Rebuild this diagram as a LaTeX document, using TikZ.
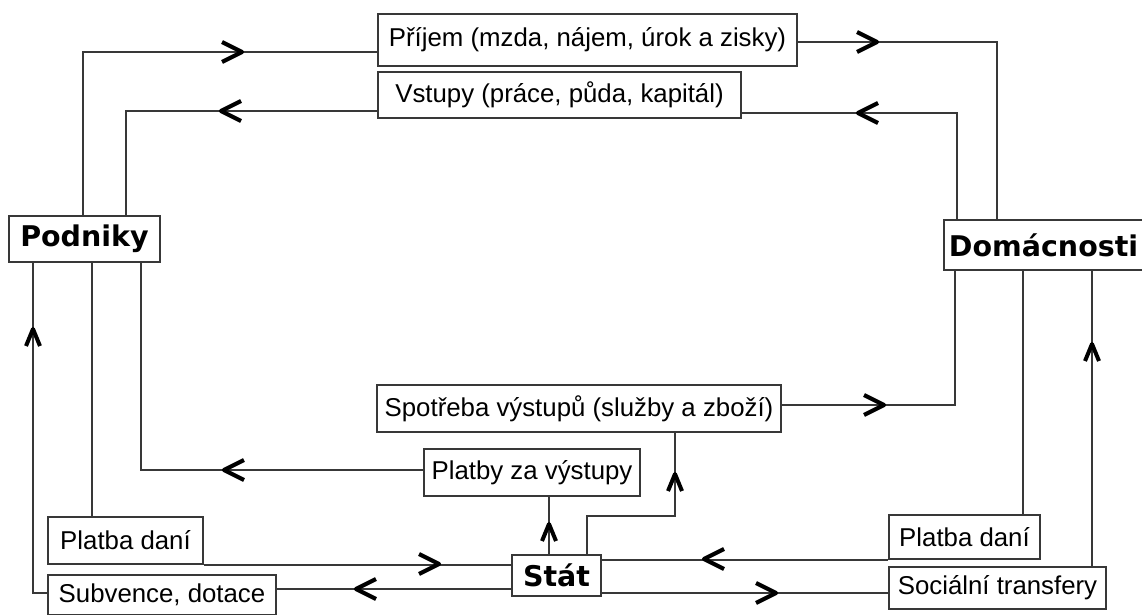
\documentclass[tikz,border=0pt]{standalone}
\usepackage{fontspec}
\setmainfont{Liberation Sans}
\newfontfamily\heavyfam{DejaVu Sans}
\definecolor{ln}{HTML}{383838}
\tikzset{
  x=1pt, y=-1pt,
  box/.style={draw=ln, line width=1.8pt, inner sep=0pt, text=black,
    font=\fontsize{25.8}{30}\selectfont},
  bigbox/.style={draw=ln, line width=1.8pt, inner sep=0pt, text=black,
    font=\heavyfam\bfseries\fontsize{28.5}{32}\selectfont},
  conn/.style={draw=ln, line width=1.8pt},
  chevR/.pic={\draw[black, line width=4.2pt, line join=round] (-20,-10) -- (0,0) -- (-20,10);},
  chevL/.pic={\draw[black, line width=4.2pt, line join=round] (20,-10) -- (0,0) -- (20,10);},
  chevU/.pic={\draw[black, line width=4pt, line join=round] (-7,17) -- (0,0) -- (7,17);},
}
\begin{document}
\begin{tikzpicture}
\useasboundingbox (0,0) rectangle (1142,614);
\clip (0,0) rectangle (1142,614);
\fill[white] (0,0) rectangle (1142,614);

% nodes
\node[box, minimum width=419pt, minimum height=52pt] (Prijem) at (587.5,40) {Příjem (mzda, nájem, úrok a zisky)};
\node[box, minimum width=363pt, minimum height=46pt] (Vstupy) at (559.5,95) {Vstupy (práce, půda, kapitál)};
\node[bigbox, minimum width=151pt, minimum height=46pt] (Podniky) at (84.5,239) {Podniky};
\node[bigbox, anchor=west, minimum width=210pt, minimum height=50pt, text width=200pt, align=left, inner xsep=5pt] (Domacnosti) at (943,245) {Domácnosti};
\node[box, minimum width=404pt, minimum height=47pt] (Spotreba) at (579,408.5) {Spotřeba výstupů (služby a zboží)};
\node[box, minimum width=216pt, minimum height=47pt] (Platby) at (532,472.5) {Platby za výstupy};
\node[bigbox, minimum width=89pt, minimum height=41pt] (Stat) at (556.5,575.5) {Stát};
\node[box, minimum width=155pt, minimum height=47pt] (PlatbaL) at (125.5,540.5) {Platba daní};
\node[box, minimum width=228pt, minimum height=40pt] (Subvence) at (162,595) {Subvence, dotace};
\node[box, minimum width=151pt, minimum height=44pt] (PlatbaR) at (964.5,537) {Platba daní};
\node[box, minimum width=217pt, minimum height=42pt] (Socialni) at (997.5,588) {Sociální transfery};

% helper corners
\coordinate (cA) at (83,52);
\coordinate (cB) at (126,111);
\coordinate (cC) at (997,42);
\coordinate (cD) at (957,113);
\coordinate (cE) at (33,593);
\coordinate (cF) at (92,400);
\coordinate (cG) at (141,470);
\coordinate (cI) at (0,589);
\coordinate (cJ) at (549,0);
\coordinate (cK1) at (587,516);
\coordinate (cK2) at (675,516);
\coordinate (cL) at (955,405);
\coordinate (cM) at (1023,0);
\coordinate (cO) at (0,593);
\coordinate (cP) at (1092,0);

% connectors
\draw[conn] (Podniky.north -| cA) -- (cA) -- (Prijem.west |- cA);
\draw[conn] (Vstupy.west |- cB) -- (cB) -- (Podniky.north -| cB);
\draw[conn] (Prijem.east |- cC) -- (cC) -- (Domacnosti.north -| cC);
\draw[conn] (Domacnosti.north -| cD) -- (cD) -- (Vstupy.east |- cD);
\draw[conn] (Subvence.west |- cE) -- (cE) -- (Podniky.south -| cE);
\draw[conn] (Podniky.south -| cF) -- (PlatbaL.north -| cF);
\draw[conn] (Platby.west |- cG) -- (cG) -- (Podniky.south -| cG);
\draw[conn] (PlatbaL.south east) -- (PlatbaL.south east -| Stat.west);
\draw[conn] (Stat.west |- cI) -- (Subvence.east |- cI);
\draw[conn] (Stat.north -| cJ) -- (Platby.south -| cJ);
\draw[conn] (Stat.north -| cK1) -- (cK1) -- (cK2) -- (Spotreba.south -| cK2);
\draw[conn] (Spotreba.east |- cL) -- (cL) -- (Domacnosti.south -| cL);
\draw[conn] (Domacnosti.south -| cM) -- (PlatbaR.north -| cM);
\draw[conn] (PlatbaR.south west) -- (PlatbaR.south west -| Stat.east);
\draw[conn] (Stat.east |- cO) -- (Socialni.west |- cO);
\draw[conn] (Socialni.north -| cP) -- (Domacnosti.south -| cP);

% arrow chevrons
\pic at (242,52) {chevR};
\pic at (221,111) {chevL};
\pic at (877,42) {chevR};
\pic at (858,113) {chevL};
\pic at (33,329) {chevU};
\pic at (224,470) {chevL};
\pic at (439,564) {chevR};
\pic at (356,589) {chevL};
\pic at (549,524) {chevU};
\pic at (675,474) {chevU};
\pic at (884,405) {chevR};
\pic at (704,559) {chevL};
\pic at (776,593) {chevR};
\pic at (1092,344) {chevU};
\end{tikzpicture}
\end{document}
